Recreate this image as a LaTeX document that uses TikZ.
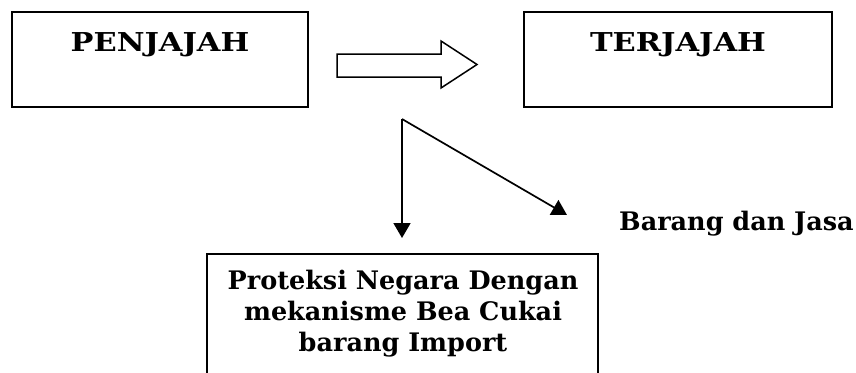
\documentclass[tikz,border=0pt]{standalone}
\usepackage{fontspec}
\setmainfont{DejaVu Serif}
\usetikzlibrary{arrows.meta}
\begin{document}
\begin{tikzpicture}[x=1pt,y=-1pt,
  box/.style={draw,line width=2pt,inner sep=0pt},
  lbl/.style={font=\bfseries\fontsize{25.5}{31}\selectfont,align=center,inner sep=0pt},
  captext/.style={font=\bfseries\fontsize{26}{31}\selectfont,inner sep=0pt,anchor=base},
  conn/.style={line width=1.7pt,line join=miter,-{Triangle[length=15pt,width=17pt]}}]
\useasboundingbox (0,0) rectangle (856,372);
% boxes
\node[box,minimum width=296pt,minimum height=95pt] (pen) at (160,59.5) {};
\node[captext] (pent) at (160,51) {\scalebox{1.17}[1]{PENJAJAH}};
\node[box,minimum width=308pt,minimum height=95pt] (ter) at (678,59.5) {};
\node[captext] (tert) at (678,51) {\scalebox{1.17}[1]{TERJAJAH}};
\node[box,minimum width=391pt,minimum height=140pt] (pro) at (402.5,324) {};
\node[lbl] (prot) at (403,314) {Proteksi Negara Dengan\\mekanisme Bea Cukai\\barang Import};
\node[lbl,anchor=base west] (bar) at (619,230) {Barang dan Jasa};
% block arrow
\draw[line width=1.5pt,line join=miter]
  (337,54) -- (441,54) -- (441,41) -- (477,64.5) -- (441,88) -- (441,77) -- (337,77) -- cycle;
% connectors
\coordinate (apex) at (402,119);
\coordinate (down) at (402,238);
\coordinate (diag) at (567,215);
\draw[conn] (apex) -- (down);
\draw[conn] (apex) -- (diag);
\end{tikzpicture}
\end{document}
